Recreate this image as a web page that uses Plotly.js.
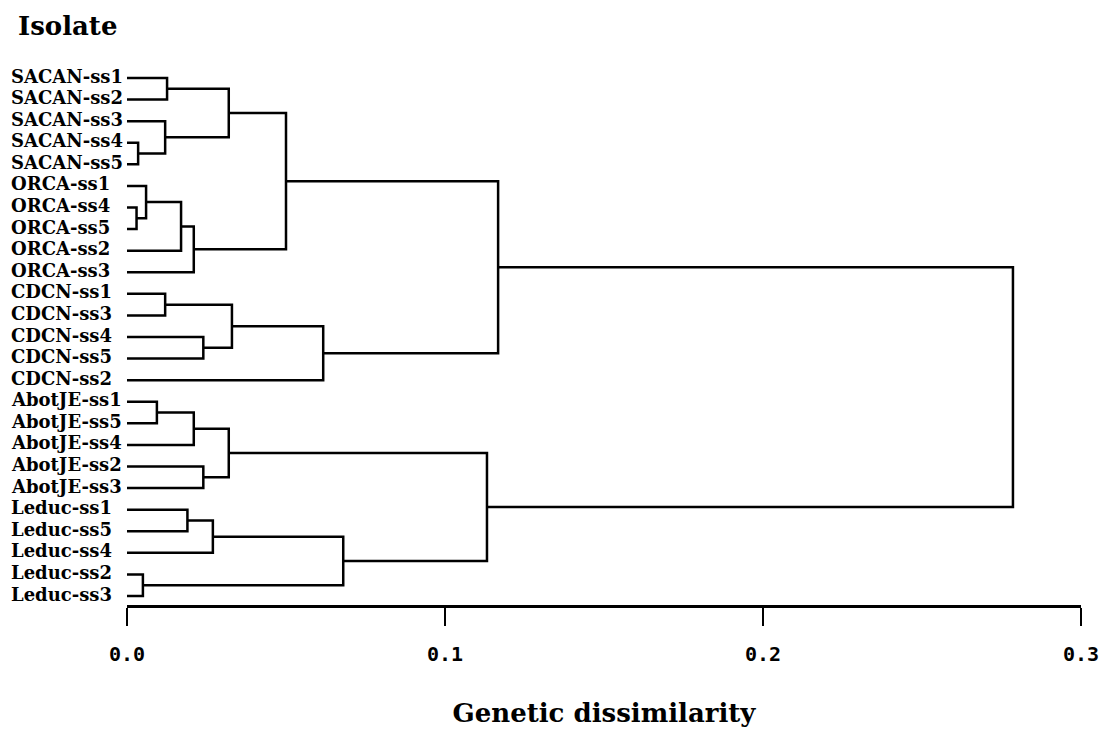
<!DOCTYPE html>
<html>
<head>
<meta charset="utf-8">
<script src="https://cdn.plot.ly/plotly-3.0.1.min.js"></script>
<style>html,body{margin:0;padding:0;background:#fff;}#chart{width:1108px;height:731px;}</style>
</head>
<body>
<div id="chart"></div>
<script>
// Leaves, top to bottom
const leafLabels = [
  "SACAN-ss1","SACAN-ss2","SACAN-ss3","SACAN-ss4","SACAN-ss5",
  "ORCA-ss1","ORCA-ss4","ORCA-ss5","ORCA-ss2","ORCA-ss3",
  "CDCN-ss1","CDCN-ss3","CDCN-ss4","CDCN-ss5","CDCN-ss2",
  "AbotJE-ss1","AbotJE-ss5","AbotJE-ss4","AbotJE-ss2","AbotJE-ss3",
  "Leduc-ss1","Leduc-ss5","Leduc-ss4","Leduc-ss2","Leduc-ss3"
];
// Merges: node ids 0..24 are leaves, merge k creates node 25+k
const mergeLeft   = [0, 3, 2, 25, 6, 5, 30, 31, 28, 10, 12, 34, 36, 33, 15, 39, 18, 40, 20, 43, 23, 44, 42, 38];
const mergeRight  = [1, 4, 26, 27, 7, 29, 8, 9, 32, 11, 13, 35, 14, 37, 16, 17, 19, 41, 21, 22, 24, 45, 46, 47];
const mergeHeight = [0.0126, 0.0035, 0.012, 0.032, 0.003, 0.006, 0.017, 0.021, 0.050,
                     0.012, 0.024, 0.033, 0.0617, 0.1167,
                     0.0094, 0.021, 0.024, 0.032, 0.019, 0.027, 0.005, 0.068, 0.1132, 0.2786];
const tickVals = [0, 0.1, 0.2, 0.3];
const tickLabels = ["0.0", "0.1", "0.2", "0.3"];

// Build dendrogram path
const pos = leafLabels.map((_, i) => i);
const hgt = leafLabels.map(() => 0);
const xs = [], ys = [];
mergeLeft.forEach((a, k) => {
  const b = mergeRight[k], H = mergeHeight[k];
  xs.push(hgt[a], H, H, hgt[b], null);
  ys.push(pos[a], pos[a], pos[b], pos[b], null);
  pos.push((pos[a] + pos[b]) / 2);
  hgt.push(H);
});

const W = 1108, ml = 127, mr = 27;
const plotW = W - ml - mr;

const annotations = leafLabels.map((t, i) => ({
  text: t, xref: 'paper', yref: 'y', x: (9 - ml) / plotW, y: i,
  xanchor: 'left', yanchor: 'middle', yshift: 2, showarrow: false,
  font: {family: 'DejaVu Serif', size: 18, color: '#000', weight: 'bold'}
}));

const trace = {
  x: xs, y: ys, type: 'scatter', mode: 'lines',
  line: {color: '#000', width: 2.5}, hoverinfo: 'skip', showlegend: false
};

const layout = {
  width: 1108, height: 731,
  margin: {l: ml, r: mr, t: 60, b: 126},
  paper_bgcolor: '#fff', plot_bgcolor: '#fff',
  title: {text: 'Isolate', xref: 'container', x: 18 / W, xanchor: 'left',
          yref: 'container', y: 1 - 26 / 731, yanchor: 'middle',
          font: {family: 'DejaVu Serif', size: 26, color: '#000', weight: 'bold'}},
  xaxis: {
    range: [0, 0.3], tickvals: tickVals, ticktext: tickLabels,
    ticks: 'outside', ticklen: 18, tickwidth: 2, tickcolor: '#000',
    ticklabelstandoff: 11,
    showline: true, linecolor: '#000', linewidth: 2.5,
    showgrid: false, zeroline: false, fixedrange: true,
    tickfont: {family: 'DejaVu Sans Mono', size: 20, color: '#000', weight: 'bold'},
    title: {text: 'Genetic dissimilarity', standoff: 40,
            font: {family: 'DejaVu Serif', size: 26, color: '#000', weight: 'bold'}}
  },
  yaxis: {range: [24.417, -0.834], visible: false, fixedrange: true},
  annotations: annotations
};

Plotly.newPlot('chart', [trace], layout, {displayModeBar: false, staticPlot: true});
</script>
</body>
</html>
